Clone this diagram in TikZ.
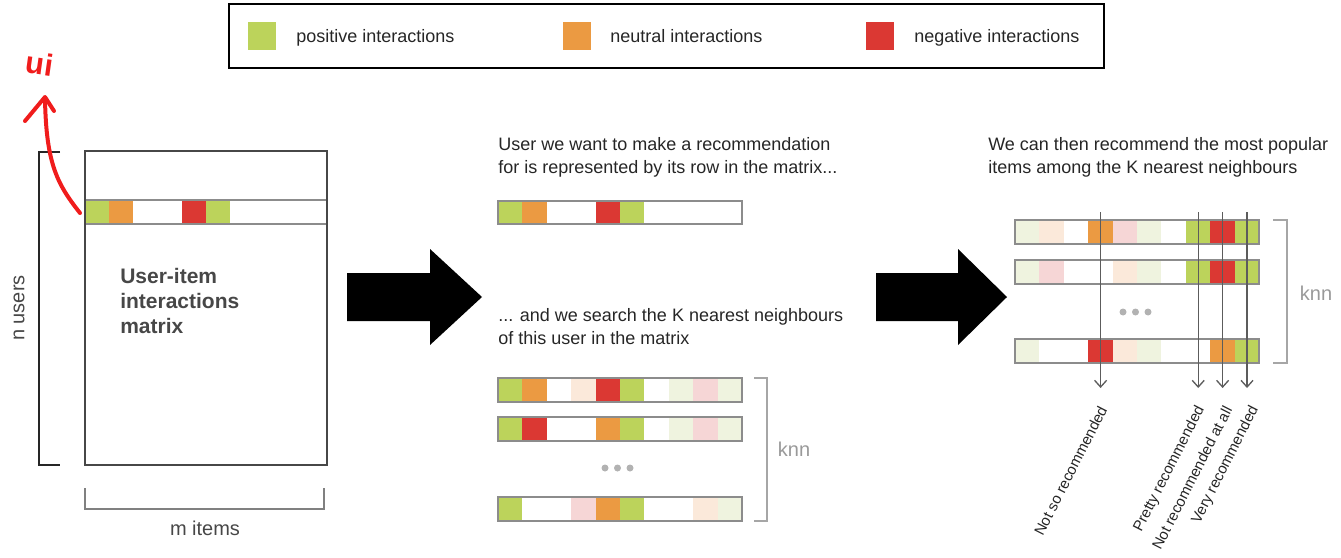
\documentclass[tikz,border=0pt]{standalone}
\usepackage{fontspec}
\setmainfont{Liberation Sans}
\usetikzlibrary{arrows.meta}
\definecolor{ipos}{HTML}{BCD35B}
\definecolor{ineu}{HTML}{EB9A42}
\definecolor{ineg}{HTML}{DB3833}
\definecolor{lpos}{HTML}{EFF3DF}
\definecolor{lneu}{HTML}{FBE9DA}
\definecolor{lneg}{HTML}{F6D6D6}
\definecolor{rowgray}{HTML}{8C8C8C}
\definecolor{textgray}{HTML}{262626}
\definecolor{hand}{HTML}{F01C1C}

\begin{document}
\begin{tikzpicture}[x=0.75pt,y=0.75pt,yscale=-1,xscale=1,
	caption/.style={anchor=north west, inner sep=0pt, align=left, text=textgray, font=\fontsize{13.5}{17.25}\selectfont},
	legtext/.style={anchor=base west, inner sep=0pt, text=textgray, font=\fontsize{13.5}{16}\selectfont},
	rowbox/.style={draw=rowgray, line width=1.2pt},
	knnbracket/.style={draw=gray!70, line width=1.1pt},
	knntext/.style={text=gray!80, font=\fontsize{15}{18}\selectfont},
	recolabel/.style={rotate=63, anchor=east, inner sep=0pt, text=textgray, font=\fontsize{11.2}{13}\selectfont}]
		% Set diagram frame to 1341 x 557
		\useasboundingbox (0,0) rectangle (1341,557);

		% Legend box with the three interaction colours
		\draw[black, line width=1.5pt] (229,4) rectangle (1104,68);
		\fill[ipos] (248,22) rectangle ++(28,28);
		\fill[ineu] (563,22) rectangle ++(28,28);
		\fill[ineg] (866,22) rectangle ++(28,28);
		\node[legtext] (legpos) at (296,42) {positive interactions};
		\node[legtext] (legneu) at (610,42) {neutral interactions};
		\node[legtext] (legneg) at (914,42) {negative interactions};

		% The user-item matrix with the row of one user
		\foreach \c [count=\i from 0] in {ipos,ineu,white,white,ineg,ipos,white,white,white,white}
			\fill[fill=\c] ({85+\i*24.2},200) rectangle ++(24.2,24);
		\draw[rowgray, line width=1.1pt] (85,200) -- (327,200) (85,224) -- (327,224);
		\draw[textgray!85, line width=2.2pt] (85,151) rectangle (327,465);
		\node[anchor=north west, inner sep=0pt, align=left, text=textgray!85, font=\fontsize{15.75}{18.75}\selectfont\bfseries] (mtitle) at (120,268) {User-item\\interactions\\matrix};

		% Brackets "n users" and "m items"
		\draw[textgray, line width=1pt] (60,152) -- (39,152) -- (39,465) -- (60,465);
		\node[rotate=90, text=textgray!85, font=\fontsize{15}{18}\selectfont] (nusers) at (19,308) {n users};
		\draw[gray, line width=1pt] (85,488) -- (85,509) -- (324,509) -- (324,488);
		\node[text=textgray!85, font=\fontsize{15}{18}\selectfont] (mitems) at (205,528) {m items};

		% The two big black arrows
		\fill[black] (347,273) -- (430,273) -- (430,249) -- (482,297) -- (430,345) -- (430,321) -- (347,321) -- cycle;
		\fill[black] (876,273) -- (958,273) -- (958,249) -- (1007,297) -- (958,345) -- (958,321) -- (876,321) -- cycle;

		% Middle: the user row
		\node[caption] (capuser) at (498,137) {User we want to make a recommendation\\for is represented by its row in the matrix...};
		\foreach \c [count=\i from 0] in {ipos,ineu,white,white,ineg,ipos,white,white,white,white}
			\fill[fill=\c] ({498+\i*24.4},201) rectangle ++(24.4,23);
		\draw[rowbox] (498,201) rectangle (742,224);

		% Middle: the K nearest neighbours
		\node[caption] (capsearch) at (498,308) {... and we search the K nearest neighbours\\of this user in the matrix};
		\foreach \c [count=\i from 0] in {ipos,ineu,white,lneu,ineg,ipos,white,lpos,lneg,lpos}
			\fill[fill=\c] ({498+\i*24.4},378) rectangle ++(24.4,24);
		\draw[rowbox] (498,378) rectangle (742,402);
		\foreach \c [count=\i from 0] in {ipos,ineg,white,white,ineu,ipos,white,lpos,lneg,lpos}
			\fill[fill=\c] ({498+\i*24.4},417) rectangle ++(24.4,24);
		\draw[rowbox] (498,417) rectangle (742,441);
		\foreach \c [count=\i from 0] in {ipos,white,white,lneg,ineu,ipos,white,white,lneu,lpos}
			\fill[fill=\c] ({498+\i*24.4},497) rectangle ++(24.4,24);
		\draw[rowbox] (498,497) rectangle (742,521);
		\fill[gray!60] (605,468) circle (3.5) (617.5,468) circle (3.5) (630,468) circle (3.5);
		\draw[knnbracket] (754,378) -- (767,378) -- (767,521) -- (754,521);
		\node[knntext] (knnmid) at (794,449) {knn};

		% Right: recommending the most popular items
		\node[caption] (capreco) at (988,137) {We can then recommend the most popular\\items among the K nearest neighbours};
		\foreach \c [count=\i from 0] in {lpos,lneu,white,ineu,lneg,lpos,white,ipos,ineg,ipos}
			\fill[fill=\c] ({1015+\i*24.4},220) rectangle ++(24.4,24);
		\draw[rowbox] (1015,220) rectangle (1259,244);
		\foreach \c [count=\i from 0] in {lpos,lneg,white,white,lneu,lpos,white,ipos,ineg,ipos}
			\fill[fill=\c] ({1015+\i*24.4},260) rectangle ++(24.4,24);
		\draw[rowbox] (1015,260) rectangle (1259,284);
		\foreach \c [count=\i from 0] in {lpos,white,white,ineg,lneu,lpos,white,white,ineu,ipos}
			\fill[fill=\c] ({1015+\i*24.4},339) rectangle ++(24.4,24);
		\draw[rowbox] (1015,339) rectangle (1259,363);
		\fill[gray!60] (1123,312) circle (3.5) (1135.5,312) circle (3.5) (1148,312) circle (3.5);
		\draw[knnbracket] (1273,220) -- (1287,220) -- (1287,363) -- (1273,363);
		\node[knntext] (knnright) at (1316,293) {knn};

		% Vertical arrows through the chosen columns
		\coordinate (topa) at (1100.6,212);
		\coordinate (bota) at (1100.6,388);
		\coordinate (topb) at (1198.2,212);
		\coordinate (botb) at (1198.2,388);
		\coordinate (topc) at (1222.6,212);
		\coordinate (botc) at (1222.6,388);
		\coordinate (topd) at (1247,212);
		\coordinate (botd) at (1247,388);
		\draw[textgray!75, line width=1pt, -{Straight Barb[length=5pt,width=9pt]}] (topa) -- (bota);
		\draw[textgray!75, line width=1pt, -{Straight Barb[length=5pt,width=9pt]}] (topb) -- (botb);
		\draw[textgray!75, line width=1pt, -{Straight Barb[length=5pt,width=9pt]}] (topc) -- (botc);
		\draw[textgray!75, line width=1pt, -{Straight Barb[length=5pt,width=9pt]}] (topd) -- (botd);

		% Rotated labels below the arrows
		\node[recolabel] (notso) at (1103,407) {Not so recommended};
		\node[recolabel] (pretty) at (1201,407) {Pretty recommended};
		\node[recolabel] (notatall) at (1228,407) {Not recommended at all};
		\node[recolabel] (very) at (1255,407) {Very recommended};

		% Red handwritten note pointing at the user row
		\draw[hand, line width=3pt, line cap=round, line join=round] (80,213) .. controls (58,185) and (46,165) .. (45,98);
		\draw[hand, line width=3pt, line cap=round, line join=round] (25,121) -- (45,97) -- (54,111);
		\node[hand, rotate=-8, font=\fontsize{23}{23}\selectfont\bfseries] (ui) at (40,64) {ui};
	\end{tikzpicture}
\end{document}
